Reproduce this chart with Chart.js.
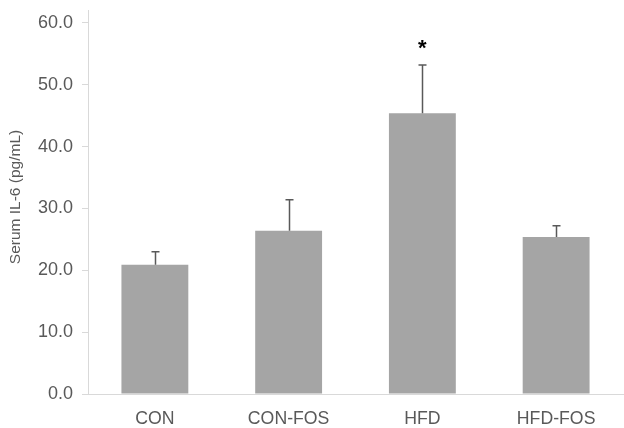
<!DOCTYPE html>
<html>
<head>
<meta charset="utf-8">
<script src="https://cdn.jsdelivr.net/npm/chart.js@4/dist/chart.umd.min.js"></script>
<style>
  html, body { margin: 0; padding: 0; background: #fff; }
  #wrap { width: 624px; height: 428px; }
</style>
</head>
<body>
<div id="wrap"><canvas id="il6Chart"></canvas></div>
<script>
// data
var groups = ['CON', 'CON-FOS', 'HFD', 'HFD-FOS'];
var il6Mean = [20.9, 26.4, 45.4, 25.4];
var il6Err = [2.1, 5.0, 7.8, 1.8];
var starGroup = 'HFD';
var starValue = 56.5;
var yTicks = [0, 10, 20, 30, 40, 50, 60];
var yTitle = 'Serum IL-6 (pg/mL)';

var textColor = '#595959';
var fontFamily = 'Arial, "Liberation Sans", sans-serif';

// upper error bars, significance star and the y axis title
var errorBarPlugin = {
    id: 'errorBars',
    afterDatasetsDraw: function (chart) {
        var ctx = chart.ctx;
        var x = chart.scales.x;
        var y = chart.scales.y;
        ctx.save();
        ctx.strokeStyle = '#595959';
        ctx.lineWidth = 1.5;
        groups.forEach(function (g, i) {
            var cx = Math.round(x.getPixelForValue(i)) + 0.5;
            var yTop = y.getPixelForValue(il6Mean[i] + il6Err[i]);
            var yBar = y.getPixelForValue(il6Mean[i]);
            ctx.beginPath();
            ctx.moveTo(cx, yBar);
            ctx.lineTo(cx, yTop);
            ctx.moveTo(cx - 4, yTop);
            ctx.lineTo(cx + 4, yTop);
            ctx.stroke();
        });
        var si = groups.indexOf(starGroup);
        ctx.fillStyle = '#000';
        ctx.font = 'bold 22px ' + fontFamily;
        ctx.textAlign = 'center';
        ctx.textBaseline = 'alphabetic';
        var m = ctx.measureText('*');
        var sy = y.getPixelForValue(starValue) + (m.actualBoundingBoxAscent - m.actualBoundingBoxDescent) / 2;
        ctx.fillText('*', x.getPixelForValue(si), sy);

        // axis title, a bit above the middle of the plot like the original
        ctx.translate(16, (chart.chartArea.top + chart.chartArea.bottom) / 2 - 5);
        ctx.rotate(-Math.PI / 2);
        ctx.fillStyle = textColor;
        ctx.font = '15.5px ' + fontFamily;
        ctx.textBaseline = 'middle';
        ctx.fillText(yTitle, 0, 0);
        ctx.restore();
    }
};

document.addEventListener('DOMContentLoaded', function () {
    var ctx = document.getElementById('il6Chart').getContext('2d');
    var il6Chart = new Chart(ctx, {
        type: 'bar',
        data: {
            labels: groups,
            datasets: [{
                label: 'Serum IL-6',
                data: il6Mean,
                backgroundColor: '#a5a5a5',
                borderWidth: 0,
                categoryPercentage: 1.0,
                barPercentage: 0.5
            }]
        },
        options: {
            responsive: true,
            maintainAspectRatio: false,
            animation: false,
            layout: {
                padding: { top: 10, right: 1, bottom: 0, left: 0 }
            },
            scales: {
                x: {
                    grid: { display: false, drawTicks: false },
                    border: { color: '#d9d9d9', width: 1 },
                    ticks: {
                        color: textColor,
                        padding: 14,
                        font: { family: fontFamily, size: 17.7 }
                    },
                    afterFit: function (scale) { scale.height = 34; }
                },
                y: {
                    min: 0,
                    max: 62.1,
                    afterBuildTicks: function (scale) {
                        scale.ticks = yTicks.map(function (v) { return { value: v }; });
                    },
                    grid: {
                        drawOnChartArea: false,
                        drawTicks: true,
                        tickLength: 6,
                        color: '#d9d9d9'
                    },
                    border: { color: '#d9d9d9', width: 1 },
                    ticks: {
                        color: textColor,
                        padding: 9,
                        font: { family: fontFamily, size: 18 },
                        callback: function (value) { return Number(value).toFixed(1); }
                    },
                    afterFit: function (scale) {
                        scale.width = 88;
                        scale.paddingTop = 0;
                        scale.paddingBottom = 0;
                    }
                }
            },
            plugins: {
                legend: { display: false },
                tooltip: { enabled: false }
            }
        },
        plugins: [errorBarPlugin]
    });
});
</script>
</body>
</html>
